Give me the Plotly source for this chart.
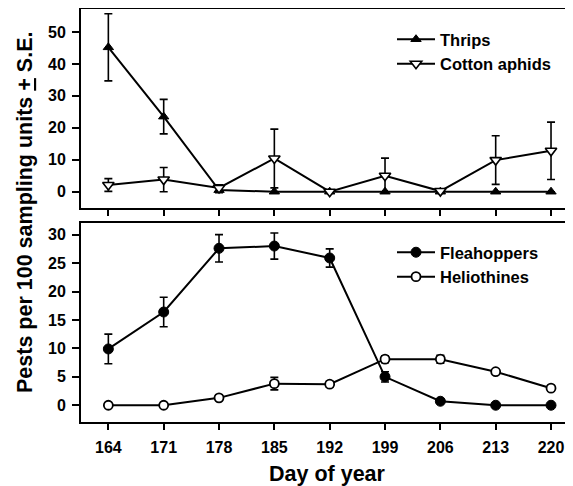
import plotly.graph_objects as go

days = [164, 171, 178, 185, 192, 199, 206, 213, 220]
day_labels = ["164", "171", "178", "185", "192", "199", "206", "213", "220"]

thrips = [45.2, 23.5, 0.5, 0, 0, 0, 0, 0, 0]
thrips_se = [10.5, 5.4, 0.8, 0, 0, 0, 0, 0, 0]
aphids = [2.1, 3.8, 1.2, 10.4, 0, 5.0, 0.2, 9.9, 12.8]
aphids_se = [2.0, 3.8, 1.0, 9.2, 0, 5.5, 0, 7.6, 9.0]

flea = [9.9, 16.4, 27.6, 28.0, 25.9, 5.0, 0.7, 0, 0]
flea_se = [2.6, 2.6, 2.4, 2.3, 1.6, 0.9, 0, 0, 0]
helio = [0, 0, 1.3, 3.8, 3.7, 8.1, 8.1, 5.9, 3.0]
helio_se = [0, 0, 0, 1.1, 0.5, 0.6, 0.7, 0, 0]

upper_ticks = [0, 10, 20, 30, 40, 50]
lower_ticks = [0, 5, 10, 15, 20, 25, 30]

FONT = "Liberation Sans, Arial, sans-serif"

fig = go.Figure()

def err(vals):
    return dict(type="data", array=vals, visible=True, color="black",
                thickness=1.6, width=4)

fig.add_trace(go.Scatter(x=days, y=thrips, name="Thrips", mode="lines+markers",
                         line=dict(color="black", width=2),
                         marker=dict(symbol="triangle-up", size=9, color="black",
                                     line=dict(color="black", width=1)),
                         error_y=err(thrips_se), xaxis="x", yaxis="y",
                         legend="legend"))
fig.add_trace(go.Scatter(x=days, y=aphids, name="Cotton aphids", mode="lines+markers",
                         line=dict(color="black", width=2),
                         marker=dict(symbol="triangle-down", size=10, color="white",
                                     line=dict(color="black", width=1.6)),
                         error_y=err(aphids_se), xaxis="x", yaxis="y",
                         legend="legend"))
fig.add_trace(go.Scatter(x=days, y=flea, name="Fleahoppers", mode="lines+markers",
                         line=dict(color="black", width=2),
                         marker=dict(symbol="circle", size=10, color="black",
                                     line=dict(color="black", width=1)),
                         error_y=err(flea_se), xaxis="x2", yaxis="y2",
                         legend="legend2"))
fig.add_trace(go.Scatter(x=days, y=helio, name="Heliothines", mode="lines+markers",
                         line=dict(color="black", width=2),
                         marker=dict(symbol="circle", size=9, color="white",
                                     line=dict(color="black", width=1.8)),
                         error_y=err(helio_se), xaxis="x2", yaxis="y2",
                         legend="legend2"))

W, H = 573, 486
OFF = 8  # page body offset


def fx(px):
    return (px - OFF) / W


def fy(px):
    return 1 - (px - OFF) / H


xdom = [fx(81), fx(573)]
up_dom = [fy(208), fy(9)]
lo_dom = [fy(422.3), fy(223.3)]
xrange = [160.54, 222.78]

xcommon = dict(range=xrange, tickmode="array", tickvals=days, ticktext=day_labels,
               showgrid=False, zeroline=False, showline=True, linecolor="black",
               linewidth=2, mirror=True, ticks="outside", ticklen=6, tickwidth=1.5,
               tickcolor="black", domain=xdom, ticklabelstandoff=3,
               tickfont=dict(family=FONT, size=16, color="black", weight="bold"))
ycommon = dict(showgrid=False, zeroline=False, showline=True, linecolor="black",
               linewidth=2, ticks="outside", ticklen=7, tickwidth=1.5, tickcolor="black",
               tickfont=dict(family=FONT, size=16, color="black", weight="bold"),
               ticklabelstandoff=3)

legfont = dict(family=FONT, size=16.5, color="black", weight="bold")

fig.update_layout(
    width=W, height=H,
    margin=dict(l=0, r=0, t=0, b=0),
    paper_bgcolor="white", plot_bgcolor="white",
    font=dict(family=FONT, color="black"),
    xaxis=dict(**xcommon, anchor="y", showticklabels=False),
    yaxis=dict(**ycommon, domain=up_dom, range=[-5.1, 57.2], tickvals=upper_ticks,
               anchor="x"),
    xaxis2=dict(**xcommon, anchor="y2"),
    yaxis2=dict(**ycommon, domain=lo_dom, range=[-3.0, 32.0], tickvals=lower_ticks,
                anchor="x2"),
    legend=dict(x=fx(392), y=fy(22), xanchor="left", yanchor="top",
                bgcolor="rgba(0,0,0,0)", tracegroupgap=0, itemwidth=38,
                font=legfont),
    legend2=dict(x=fx(392), y=fy(235), xanchor="left", yanchor="top",
                 bgcolor="rgba(0,0,0,0)", tracegroupgap=0, itemwidth=38,
                 font=legfont),
    showlegend=True,
    annotations=[
        dict(text="Day of year", x=fx(327), y=fy(474), xref="paper", yref="paper",
             showarrow=False, xanchor="center", yanchor="middle",
             font=dict(family=FONT, size=21.5, color="black", weight="bold")),
        dict(text="Pests per 100 sampling units <u>+</u> S.E.", x=fx(25),
             y=fy(213), xref="paper", yref="paper", textangle=-90,
             showarrow=False, xanchor="center", yanchor="middle",
             font=dict(family=FONT, size=21.5, color="black", weight="bold")),
    ],
)

fig.write_html("out.html")
